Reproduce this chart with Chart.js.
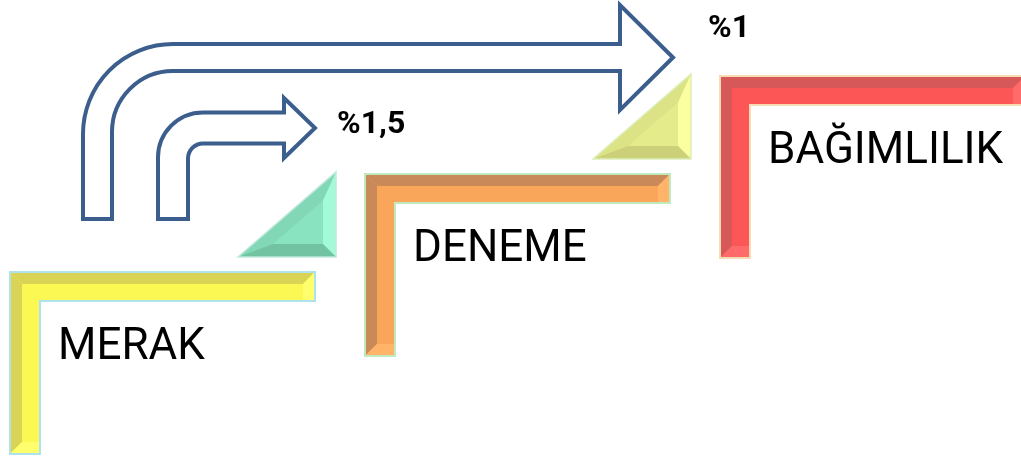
<!DOCTYPE html>
<html>
<head>
<meta charset="utf-8">
<script src="https://cdn.jsdelivr.net/npm/chart.js@4.4.0/dist/chart.umd.min.js"></script>
<style>
  body { margin: 0; background: #fff; }
  #wrap { width: 1021px; height: 457px; }
</style>
</head>
<body>
<div id="wrap"><canvas id="stairs" width="1021" height="457"></canvas></div>
<script>
// stages of the staircase, bottom to top
const stages = ['MERAK', 'DENEME', 'BAĞIMLILIK'];
const stageLevels = [1, 2, 3];
// rates shown at the arrows (merak -> deneme, merak -> bağımlılık)
const rateLabels = ['%1,5', '%1'];
const rateTargets = [1, 2];

const stageColors = [
  { main: '#fbf853', dark: '#d9d456', light: '#ffff6e', edge: '#aee3ee' },
  { main: '#f9a65b', dark: '#c98958', light: '#ffb46a', edge: '#bfe9bf' },
  { main: '#fd5656', dark: '#d75858', light: '#ff6a6a', edge: '#f6dcb4' }
];
const wedgeColors = [
  null,
  { main: '#89e2c0', hyp: '#82d8b6', right: '#a3fad9', bottom: '#72c3a2', edge: '#c0e8dc' },
  { main: '#e4eb8b', hyp: '#dce386', right: '#fbff9f', bottom: '#ccd179', edge: '#dcefb8' }
];

// arrow layout, pixels relative to the first stage and to its target stage
const arrowLayout = [
  { stemX: 163, stemW: 15, bottom: -53, tipDx: -50, tipDy: -46, shaftH: 15.5, headH: 30, headL: 31, radius: 45, labelDx: 22, labelDy: 5 },
  { stemX: 87.5, stemW: 14.5, bottom: -53, tipDx: -47, tipDy: -18.5, shaftH: 13.5, headH: 52.5, headL: 53, radius: 90, labelDx: 35, labelDy: -21 }
];

function poly(ctx, pts, fill) {
  ctx.beginPath();
  ctx.moveTo(pts[0][0], pts[0][1]);
  for (let i = 1; i < pts.length; i++) ctx.lineTo(pts[i][0], pts[i][1]);
  ctx.closePath();
  ctx.fillStyle = fill;
  ctx.fill();
}

function drawStep(ctx, x, y, c) {
  const W = 305, H = 182, T = 29, V = 30, b = 12;
  const outline = [[x, y], [x + W, y], [x + W, y + T], [x + V, y + T], [x + V, y + H], [x, y + H]];
  poly(ctx, outline, c.main);
  poly(ctx, [[x, y], [x + W, y], [x + W - b, y + b], [x + b, y + b]], c.dark);
  poly(ctx, [[x, y], [x + b, y + b], [x + b, y + H - b], [x, y + H]], c.dark);
  poly(ctx, [[x + W, y], [x + W, y + T], [x + W - b, y + T], [x + W - b, y + b]], c.light);
  poly(ctx, [[x, y + H], [x + b, y + H - b], [x + V, y + H - b], [x + V, y + H]], c.light);
  ctx.beginPath();
  outline.forEach((p, i) => i ? ctx.lineTo(p[0], p[1]) : ctx.moveTo(p[0], p[1]));
  ctx.closePath();
  ctx.strokeStyle = c.edge;
  ctx.lineWidth = 2;
  ctx.stroke();
}

function drawWedge(ctx, x, y, c) {
  const rx = x - 29, ty = y - 2, by = ty + 85, w = 98, bev = 13;
  const A = [rx - w, by], B = [rx, ty], C = [rx, by];
  const d = (p, q) => Math.hypot(p[0] - q[0], p[1] - q[1]);
  const a = d(B, C), bb = d(C, A), cc = d(A, B), s = a + bb + cc;
  const I = [(a * A[0] + bb * B[0] + cc * C[0]) / s, (a * A[1] + bb * B[1] + cc * C[1]) / s];
  const r = (a * bb) / s; // right triangle inradius
  const k = (r - bev) / r;
  const sh = p => [I[0] + (p[0] - I[0]) * k, I[1] + (p[1] - I[1]) * k];
  const A2 = sh(A), B2 = sh(B), C2 = sh(C);
  poly(ctx, [A, B, C], c.main);
  poly(ctx, [A, B, B2, A2], c.hyp);
  poly(ctx, [B, C, C2, B2], c.right);
  poly(ctx, [C, A, A2, C2], c.bottom);
  ctx.beginPath();
  ctx.moveTo(A[0], A[1]); ctx.lineTo(B[0], B[1]); ctx.lineTo(C[0], C[1]); ctx.closePath();
  ctx.strokeStyle = c.edge;
  ctx.lineWidth = 1.5;
  ctx.stroke();
}

function drawArrow(ctx, p0, pt, a) {
  const sx = p0.x + a.stemX, by = p0.y + a.bottom;
  const tipX = pt.x + a.tipDx, cy = pt.y + a.tipDy;
  const top = cy - a.shaftH, bot = cy + a.shaftH;
  const left = sx - a.stemW, right = sx + a.stemW;
  const ro = a.radius, ri = ro - 2 * a.stemW;
  const hx = tipX - a.headL;
  ctx.beginPath();
  ctx.moveTo(left, by);
  ctx.lineTo(left, top + ro);
  ctx.arc(left + ro, top + ro, ro, Math.PI, 1.5 * Math.PI);
  ctx.lineTo(hx, top);
  ctx.lineTo(hx, cy - a.headH);
  ctx.lineTo(tipX, cy);
  ctx.lineTo(hx, cy + a.headH);
  ctx.lineTo(hx, bot);
  ctx.lineTo(right + ri, bot);
  ctx.arc(right + ri, bot + ri, ri, 1.5 * Math.PI, Math.PI, true);
  ctx.lineTo(right, by);
  ctx.closePath();
  ctx.strokeStyle = '#3b5e8d';
  ctx.lineWidth = 4;
  ctx.lineJoin = 'miter';
  ctx.stroke();
  return { x: tipX, y: cy };
}

const stairsPlugin = {
  id: 'stairs',
  afterDatasetsDraw(chart) {
    const ctx = chart.ctx;
    const xs = chart.scales.x, ys = chart.scales.y;
    const pts = stages.map((s, i) => ({ x: xs.getPixelForValue(i), y: ys.getPixelForValue(stageLevels[i]) }));
    ctx.save();
    pts.forEach((p, i) => {
      drawStep(ctx, p.x, p.y, stageColors[i]);
      if (wedgeColors[i]) drawWedge(ctx, p.x, p.y, wedgeColors[i]);
    });
    ctx.fillStyle = '#000';
    ctx.textBaseline = 'alphabetic';
    ctx.textAlign = 'left';
    ctx.font = '44px Roboto';
    pts.forEach((p, i) => ctx.fillText(stages[i], p.x + 48, p.y + 87));
    rateLabels.forEach((lbl, j) => {
      const a = arrowLayout[j];
      const tip = drawArrow(ctx, pts[0], pts[rateTargets[j]], a);
      ctx.fillStyle = '#000';
      ctx.font = 'bold 32px Roboto';
      ctx.fillText(lbl, tip.x + a.labelDx, tip.y + a.labelDy);
    });
    ctx.restore();
  }
};

new Chart(document.getElementById('stairs'), {
  type: 'scatter',
  data: {
    datasets: [{
      label: 'stages',
      data: stages.map((s, i) => ({ x: i, y: stageLevels[i] })),
      pointRadius: 0
    }]
  },
  options: {
    responsive: false,
    animation: false,
    layout: { padding: 0 },
    plugins: { legend: { display: false }, tooltip: { enabled: false } },
    scales: {
      x: { type: 'linear', display: false, min: -10 / 355, max: 1011 / 355 },
      y: { type: 'linear', display: false, min: -87 / 98, max: 370 / 98 }
    }
  },
  plugins: [stairsPlugin]
});
</script>
</body>
</html>
